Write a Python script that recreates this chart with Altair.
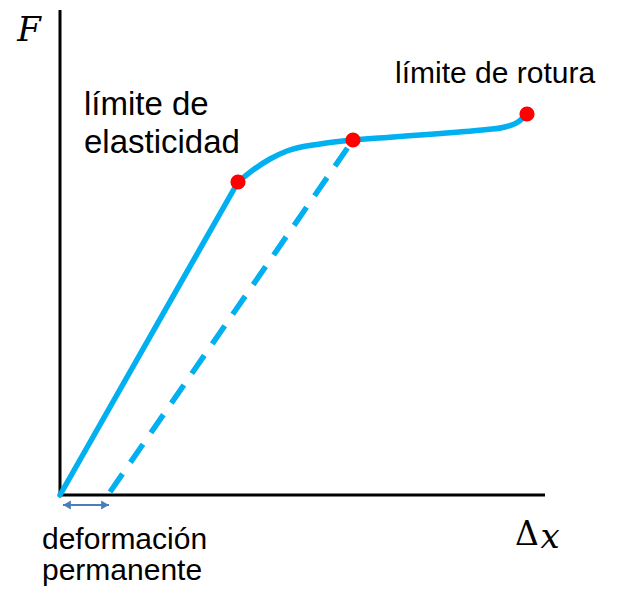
import altair as alt
import pandas as pd

# data coordinates (arbitrary units, origin at axes corner)
straight_x = [0, 178]
straight_y = [0, 313]
curve_x = [178, 193, 210, 227, 260, 293, 327, 360, 393, 427, 445, 458, 467]
curve_y = [313, 325, 336, 344, 351, 355, 357.5, 360, 362.5, 365.5, 368, 373, 381]
dash_x = [50, 293]
dash_y = [3, 355]
dots_x = [178, 293, 467]
dots_y = [313, 355, 381]

XMAX, YMAX = 485, 485

xs = alt.Scale(domain=[0, XMAX])
ys = alt.Scale(domain=[0, YMAX])

def X(f="x"):
    return alt.X(f"{f}:Q", scale=xs, axis=None)
def Y(f="y"):
    return alt.Y(f"{f}:Q", scale=ys, axis=None)

axes_df = pd.DataFrame({"x": [0, 0], "y": [0, 0], "x2": [0, XMAX], "y2": [YMAX, 0]})
axes = alt.Chart(axes_df).mark_rule(color="black", strokeWidth=3, clip=False).encode(
    x=X(), y=Y(), x2="x2:Q", y2="y2:Q")

straight = alt.Chart(pd.DataFrame({"x": straight_x, "y": straight_y})).mark_line(
    color="#00B0F0", strokeWidth=5.5, strokeCap="round").encode(x=X(), y=Y())
curve = alt.Chart(pd.DataFrame({"x": curve_x, "y": curve_y, "o": range(len(curve_x))})).mark_line(
    color="#00B0F0", strokeWidth=5.5, strokeCap="round", interpolate="monotone").encode(
    x=X(), y=Y(), order="o:Q")
dash = alt.Chart(pd.DataFrame({"x": dash_x, "y": dash_y})).mark_line(
    color="#00B0F0", strokeWidth=5.5, strokeDash=[22, 14]).encode(x=X(), y=Y())
dots = alt.Chart(pd.DataFrame({"x": dots_x, "y": dots_y})).mark_circle(
    color="#FF0000", size=230, opacity=1).encode(x=X(), y=Y())

# double arrow for permanent deformation
arr_df = pd.DataFrame({"x": [3], "x2": [49], "y": [-10]})
arrow_line = alt.Chart(arr_df).mark_rule(color="#4A7EBB", strokeWidth=2, clip=False).encode(
    x=X(), x2="x2:Q", y=Y())
heads = alt.Chart(pd.DataFrame({"x": [7, 45], "y": [-10, -10], "s": ["triangle-left", "triangle-right"]})).mark_point(
    color="#4A7EBB", filled=True, size=80, opacity=1, clip=False).encode(
    x=X(), y=Y(), shape=alt.Shape("s:N", scale=None))

def label_layer(xv, yv, texts, size):
    df = pd.DataFrame({"x": xv, "y": yv, "t": texts})
    return alt.Chart(df).mark_text(
        font="Liberation Sans", fontSize=size, align="left", baseline="alphabetic",
        color="black", clip=False
    ).encode(x=X(), y=Y(), text="t:N")

lab_el = label_layer([24, 24], [380, 342], ["límite de", "elasticidad"], 33)
lab_rot = label_layer([335], [412], ["límite de rotura"], 30)
lab_def = label_layer([-18, -18], [-54, -85], ["deformación", "permanente"], 30)

F = alt.Chart(pd.DataFrame({"x": [-31], "y": [464], "t": ["F"]})).mark_text(
    font="DejaVu Serif", fontStyle="italic", fontSize=34, align="center", baseline="middle", clip=False
).encode(x=X(), y=Y(), text="t:N")
delta = alt.Chart(pd.DataFrame({"x": [467], "y": [-40], "t": ["Δ"]})).mark_text(
    font="DejaVu Serif", fontSize=33, align="center", baseline="middle", clip=False
).encode(x=X(), y=Y(), text="t:N")
xx = alt.Chart(pd.DataFrame({"x": [490], "y": [-43], "t": ["x"]})).mark_text(
    font="DejaVu Serif", fontStyle="italic", fontSize=34, align="center", baseline="middle", clip=False
).encode(x=X(), y=Y(), text="t:N")

chart = alt.layer(axes, dash, straight, curve, dots, arrow_line, heads,
                  lab_el, lab_rot, lab_def, F, delta, xx).properties(
    width=XMAX, height=YMAX,
    autosize=alt.AutoSizeParams(type="none"),
    padding={"left": 52, "top": 2, "right": 80, "bottom": 93},
).configure_view(stroke=None)

chart.save("out.html", embed_options={"renderer": "svg", "actions": False})
